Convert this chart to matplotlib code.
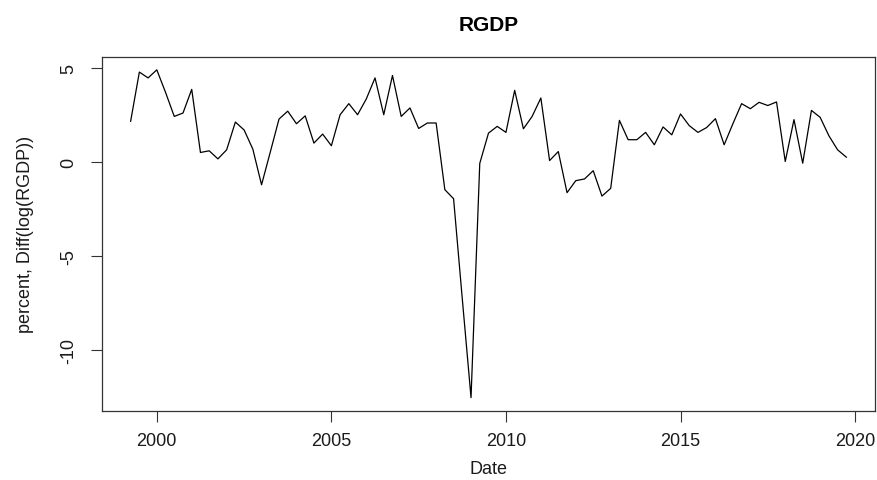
import numpy as np
import matplotlib
matplotlib.use('Agg')
import matplotlib.pyplot as plt

plt.rcParams['font.family'] = ['Liberation Sans', 'DejaVu Sans']

# quarterly growth of real GDP, 1999Q2 .. 2019Q4
start_year = 1999.25
rgdp_growth = [
    2.16, 4.78, 4.47,                      # 1999
    4.90, 3.70, 2.42, 2.60,                # 2000
    3.86, 0.50, 0.59, 0.16,                # 2001
    0.64, 2.12, 1.70, 0.68,                # 2002
    -1.22, 0.52, 2.28, 2.70,               # 2003
    2.03, 2.45, 1.00, 1.48,                # 2004
    0.86, 2.51, 3.10, 2.51,                # 2005
    3.35, 4.47, 2.51, 4.60,                # 2006
    2.42, 2.87, 1.78, 2.07,                # 2007
    2.07, -1.48, -1.96, -7.30,             # 2008
    -12.55, -0.08, 1.53, 1.89,             # 2009
    1.57, 3.81, 1.76, 2.42,                # 2010
    3.40, 0.07, 0.55, -1.64,               # 2011
    -1.00, -0.91, -0.47, -1.82,            # 2012
    -1.41, 2.21, 1.18, 1.18,               # 2013
    1.57, 0.91, 1.86, 1.44,                # 2014
    2.55, 1.93, 1.57, 1.83,                # 2015
    2.30, 0.91, 2.03, 3.10,                # 2016
    2.83, 3.17, 3.00, 3.19,                # 2017
    0.02, 2.25, -0.07, 2.74,               # 2018
    2.37, 1.39, 0.64, 0.25,                # 2019
]
x_ticks = [2000, 2005, 2010, 2015, 2020]
y_ticks = [5, 0, -5, -10]

dates = start_year + np.arange(len(rgdp_growth)) / 4

fig = plt.figure(figsize=(8.77, 4.81), dpi=100)
ax = fig.add_axes([0.1163, 0.144, 0.8814, 0.736])

ax.plot(dates, rgdp_growth, color='black', linewidth=0.9)
ax.margins(x=0.04, y=0.04)

ax.set_xticks(x_ticks)
ax.set_yticks(y_ticks)
ax.set_yticklabels([str(v) for v in y_ticks], rotation=90, va='center')
ax.tick_params(axis='both', direction='out', length=8, width=0.8,
               labelsize=13, color='#333333', labelcolor='#1a1a1a')
ax.tick_params(axis='x', pad=7.5)
ax.tick_params(axis='y', pad=10)
for sp in ax.spines.values():
    sp.set_linewidth(0.9)
    sp.set_color('#333333')

ax.set_title('RGDP', fontsize=15, fontweight='bold', pad=19)
ax.set_xlabel('Date', fontsize=13, labelpad=8, color='#1a1a1a')
ax.set_ylabel('percent, Diff(log(RGDP))', fontsize=13, labelpad=19, color='#1a1a1a')

fig.savefig('out.png', dpi=100)
